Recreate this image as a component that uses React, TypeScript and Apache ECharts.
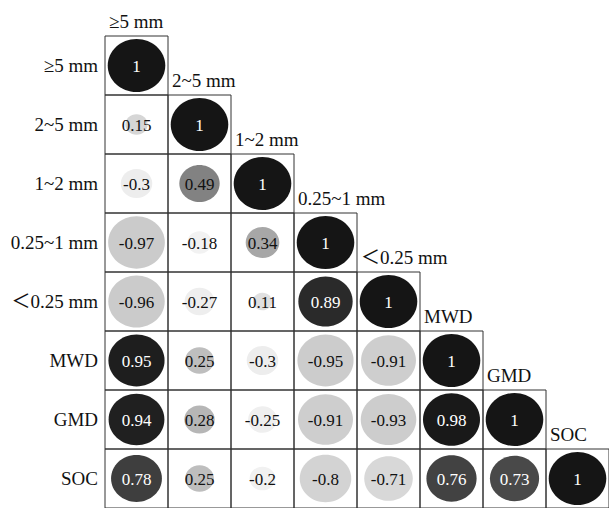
import React, { useEffect, useRef } from "react";
import * as echarts from "echarts";

const variables = ["≥5 mm", "2~5 mm", "1~2 mm", "0.25~1 mm", "＜0.25 mm", "MWD", "GMD", "SOC"];

// lower-triangular correlation rows (row i, columns 0..i)
const rowGE5 = [1];
const row2to5 = [0.15, 1];
const row1to2 = [-0.3, 0.49, 1];
const row025to1 = [-0.97, -0.18, 0.34, 1];
const rowLT025 = [-0.96, -0.27, 0.11, 0.89, 1];
const rowMWD = [0.95, 0.25, -0.3, -0.95, -0.91, 1];
const rowGMD = [0.94, 0.28, -0.25, -0.91, -0.93, 0.98, 1];
const rowSOC = [0.78, 0.25, -0.2, -0.8, -0.71, 0.76, 0.73, 1];

const corrRows = [rowGE5, row2to5, row1to2, row025to1, rowLT025, rowMWD, rowGMD, rowSOC];

const FONT = "'Liberation Serif', 'Times New Roman', 'Noto Sans CJK SC', serif";

export default function App() {
  const ref = useRef<HTMLDivElement>(null);

  useEffect(() => {
    if (!ref.current) return;
    const chart = echarts.init(ref.current, null, { renderer: "svg" });

    const cellData: number[][] = [];
    corrRows.forEach((row, i) => {
      row.forEach((v, j) => cellData.push([j, i, v]));
    });
    const diagData = variables.map((_, i) => [i, i, i]);

    const option: any = {
      animation: false,
      backgroundColor: "#ffffff",
      grid: { left: 105, top: 36, width: 507.4, height: 473.9, containLabel: false },
      xAxis: {
        type: "category",
        data: variables,
        show: false,
      },
      yAxis: {
        type: "category",
        data: variables,
        inverse: true,
        axisLine: { show: false },
        axisTick: { show: false },
        splitLine: { show: false },
        axisLabel: { fontSize: 19, color: "#111", fontFamily: FONT, margin: 7 },
      },
      visualMap: {
        show: false,
        type: "continuous",
        min: -1,
        max: 1,
        dimension: 2,
        seriesIndex: 0,
        inRange: {
          color: [
            "#c9c9c9",
            "#d6d6d6",
            "#e3e3e3",
            "#efefef",
            "#fafafa",
            "#bebebe",
            "#7f7f7f",
            "#444444",
            "#151515",
          ],
        },
      },
      series: [
        {
          type: "custom",
          data: cellData,
          clip: false,
          renderItem: (params: any, api: any) => {
            const j = api.value(0);
            const i = api.value(1);
            const v = api.value(2);
            const c = api.coord([j, i]);
            const s = api.size([1, 1]);
            const w = s[0];
            const h = s[1];
            const a = Math.sqrt(Math.abs(v));
            return {
              type: "group",
              children: [
                {
                  type: "rect",
                  shape: { x: c[0] - w / 2, y: c[1] - h / 2, width: w, height: h },
                  style: { fill: "none", stroke: "#333", lineWidth: 1 },
                },
                {
                  type: "ellipse",
                  shape: { cx: c[0], cy: c[1], rx: a * w * 0.457, ry: a * h * 0.45 },
                  style: { fill: api.visual("color") },
                },
                {
                  type: "text",
                  x: c[0],
                  y: c[1] + 1,
                  style: {
                    text: String(v),
                    fill: v >= 0.6 ? "#ffffff" : "#111111",
                    fontSize: 17,
                    fontFamily: FONT,
                    align: "center",
                    verticalAlign: "middle",
                  },
                },
              ],
            };
          },
        },
        {
          type: "custom",
          data: diagData,
          clip: false,
          renderItem: (params: any, api: any) => {
            const idx = api.value(2);
            const c = api.coord([api.value(0), api.value(1)]);
            const s = api.size([1, 1]);
            return {
              type: "text",
              x: c[0] - s[0] / 2 + 4,
              y: c[1] - s[1] / 2 - 5,
              style: {
                text: variables[idx],
                fill: "#111",
                fontSize: 19,
                fontFamily: FONT,
                align: "left",
                verticalAlign: "bottom",
              },
            };
          },
        },
      ],
    };

    chart.setOption(option);
    return () => chart.dispose();
  }, []);

  return (
    <div
      ref={ref}
      style={{ position: "fixed", left: 0, top: 0, width: 609, height: 508, background: "#fff" }}
    />
  );
}
